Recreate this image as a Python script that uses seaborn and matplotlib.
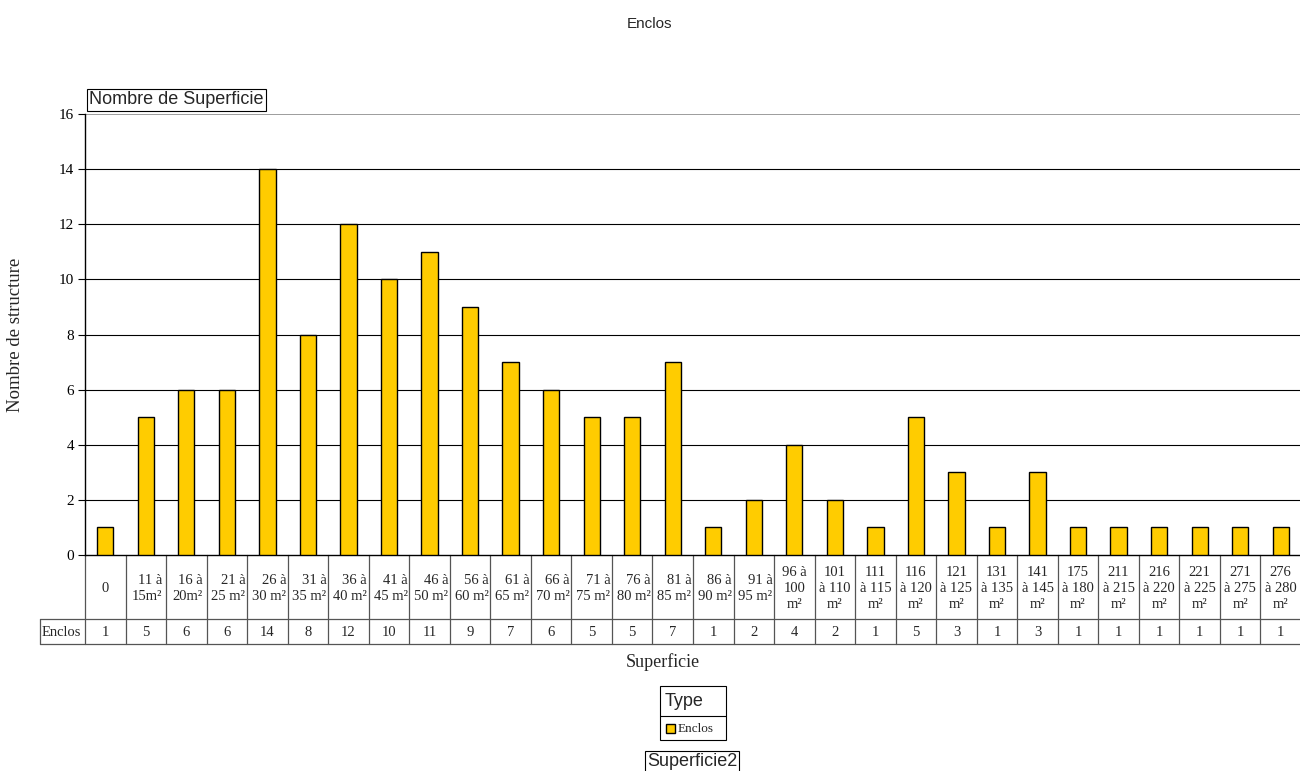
import numpy as np
import pandas as pd
import matplotlib
matplotlib.use("Agg")
import matplotlib.pyplot as plt
import matplotlib.transforms as mtransforms
from matplotlib.patches import Rectangle
import seaborn as sns

# -------------------------
# Data
# -------------------------
categories = [
    "0", "11 à\n15m²", "16 à\n20m²", "21 à\n25 m²", "26 à\n30 m²", "31 à\n35 m²",
    "36 à\n40 m²", "41 à\n45 m²", "46 à\n50 m²", "56 à\n60 m²", "61 à\n65 m²",
    "66 à\n70 m²", "71 à\n75 m²", "76 à\n80 m²", "81 à\n85 m²", "86 à\n90 m²",
    "91 à\n95 m²", "96 à\n100\nm²", "101\nà 110\nm²", "111\nà 115\nm²",
    "116\nà 120\nm²", "121\nà 125\nm²", "131\nà 135\nm²", "141\nà 145\nm²",
    "175\nà 180\nm²", "211\nà 215\nm²", "216\nà 220\nm²", "221\nà 225\nm²",
    "271\nà 275\nm²", "276\nà 280\nm²",
]
enclos = [1, 5, 6, 6, 14, 8, 12, 10, 11, 9, 7, 6, 5, 5, 7, 1, 2, 4, 2, 1,
          5, 3, 1, 3, 1, 1, 1, 1, 1, 1]
yticks = [0, 2, 4, 6, 8, 10, 12, 14, 16]

BAR = "#FFCC00"
SERIF = "Liberation Serif"
SANS = "Liberation Sans"

df = pd.DataFrame({"Superficie": categories, "Nombre": enclos, "Type": "Enclos"})

# -------------------------
# Figure
# -------------------------
sns.set_theme(style="white")
plt.rcParams["font.family"] = [SERIF, "DejaVu Serif"]

W, H = 1300, 771
fig = plt.figure(figsize=(W / 100, H / 100), dpi=100)


def fx(px):
    return px / W


def fy(py):
    return 1 - py / H


ax = fig.add_axes([fx(85), fy(555), fx(1216), fy(114) - fy(555)])

sns.barplot(data=df, x="Superficie", y="Nombre", color=BAR, saturation=1,
            edgecolor="black", linewidth=1, width=0.4, ax=ax, zorder=3)

ax.set_xlim(-0.5, len(categories) - 0.5)
ax.set_ylim(0, 16)
ax.set_yticks(yticks)
ax.set_yticklabels([str(t) for t in yticks], fontsize=11, color="black")
ax.tick_params(axis="y", direction="out", length=5, width=0.8, color="black", left=True, pad=3)
ax.set_xticks([])
ax.set_xlabel("")
ax.set_ylabel("")
for t in yticks[1:-1]:
    ax.axhline(t, color="black", lw=0.8, zorder=1)
ax.axhline(16, color="#8c8c8c", lw=1.2, zorder=1)
for s in ["top", "right"]:
    ax.spines[s].set_visible(False)
for s in ["left", "bottom"]:
    ax.spines[s].set_color("black")
    ax.spines[s].set_linewidth(1.0)

fig.text(fx(16), fy(335), "Nombre de structure", rotation=90, ha="center", va="center",
         fontsize=13.5)

# -------------------------
# Data table under the axis
# -------------------------
tr = mtransforms.blended_transform_factory(ax.transData, fig.transFigure)
n = len(categories)
line_kw = dict(color="#555555", lw=0.9, clip_on=False)
for i in range(n + 1):
    ax.plot([i - 0.5, i - 0.5], [fy(555), fy(644)], transform=tr, **line_kw)
fig.add_artist(plt.Line2D([fx(40), 1], [fy(619), fy(619)], **line_kw))
fig.add_artist(plt.Line2D([fx(40), 1], [fy(644), fy(644)], **line_kw))
fig.add_artist(plt.Line2D([fx(40), fx(40)], [fy(619), fy(644)], **line_kw))
for i, (lab, v) in enumerate(zip(categories, enclos)):
    three = lab.count("\n") == 2
    ax.text(i + (0 if three or lab == "0" else 0.04), fy(588), lab, transform=tr,
            ha="center", va="center", multialignment="center" if three else "right",
            fontsize=10.5, linespacing=1.3)
    ax.text(i, fy(632), str(v), transform=tr, ha="center", va="center", fontsize=10.5)
fig.text(fx(42), fy(632), "Enclos", ha="left", va="center", fontsize=10.5)

# -------------------------
# Titles, labels, legend
# -------------------------
fig.text(0.5, fy(24), "Enclos", ha="center", va="center", fontsize=11, family=SANS)
fig.text(fx(89), fy(100), "Nombre de Superficie", ha="left", va="center",
         fontsize=13, family=SANS,
         bbox=dict(boxstyle="square,pad=0.12", fc="white", ec="black", lw=0.8))
fig.text(fx(663), fy(662), "Superficie", ha="center", va="center", fontsize=13)

fig.add_artist(Rectangle((fx(660), fy(740)), fx(66), fy(686) - fy(740),
                         transform=fig.transFigure, fc="white", ec="black", lw=0.8))
fig.add_artist(plt.Line2D([fx(660), fx(726)], [fy(716), fy(716)], color="black", lw=0.8))
fig.text(fx(665), fy(701), "Type", ha="left", va="center", fontsize=13, family=SANS)
fig.add_artist(Rectangle((fx(666), fy(733)), fx(9), fy(724) - fy(733),
                         transform=fig.transFigure, fc=BAR, ec="black", lw=1.0))
fig.text(fx(678), fy(729), "Enclos", ha="left", va="center", fontsize=9.5)
fig.text(fx(692), fy(762), "Superficie2", ha="center", va="center", fontsize=13,
         family=SANS, bbox=dict(boxstyle="square,pad=0.12", fc="white", ec="black", lw=0.8))

fig.savefig("out.png", dpi=100)
plt.close(fig)
